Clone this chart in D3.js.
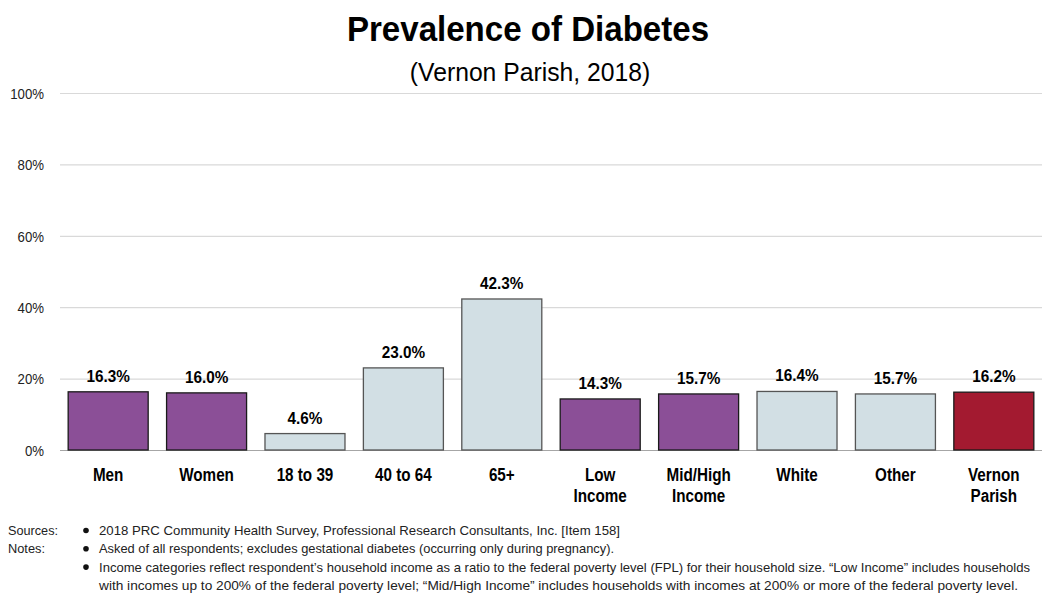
<!DOCTYPE html>
<html>
<head>
<meta charset="utf-8">
<script src="https://cdn.jsdelivr.net/npm/d3@7"></script>
<style>
  body { margin: 0; background: #fff; }
  svg { display: block; }
</style>
</head>
<body>
<svg width="1042" height="594"></svg>
<script>
    const categories = ['Men', 'Women', '18 to 39', '40 to 64', '65+', 'Low\nIncome', 'Mid/High\nIncome', 'White', 'Other', 'Vernon\nParish']
    const values = [16.3, 16.0, 4.6, 23.0, 42.3, 14.3, 15.7, 16.4, 15.7, 16.2]
    const groups = ['purple', 'purple', 'light', 'light', 'light', 'purple', 'purple', 'light', 'light', 'red']
    const yTicks = [0, 20, 40, 60, 80, 100]
    const sources = ['2018 PRC Community Health Survey, Professional Research Consultants, Inc.  [Item 158]']
    const notes = [
      ['Asked of all respondents; excludes gestational diabetes (occurring only during pregnancy).'],
      ['Income categories reflect respondent\u2019s household income as a ratio to the federal poverty level (FPL) for their household size.  \u201cLow Income\u201d includes households',
       'with incomes up to 200% of the federal poverty level; \u201cMid/High Income\u201d includes households with incomes at 200% or more of the federal poverty level.']
    ]
    // right ends of the footnote lines
    const footEnds = [620, 614, 1030, 1018]

    const fill = {purple: '#8b4f97', light: '#d2dfe4', red: '#a31a30'}
    const strokeC = {purple: '#1a1a1a', light: '#555', red: '#1a1a1a'}
    const sans = '"Liberation Sans", Arial, sans-serif'

    // squeeze text a bit, the original uses a narrow face
    function condense(sel, f) {
      sel.each(function() {
        const w = this.getComputedTextLength()
        d3.select(this).attr('textLength', w * f).attr('lengthAdjust', 'spacingAndGlyphs')
      })
    }

    const svg = d3.select('svg')
    const xs = d3.scaleBand().domain(d3.range(categories.length)).range([60, 1042]).paddingInner(0.187).paddingOuter(0.083)
    const ys = d3.scaleLinear().domain([0, 100]).range([450, 93])

    const title = svg.append('text').attr('x', 528).attr('y', 41).attr('text-anchor', 'middle')
      .style('font-family', sans).style('font-weight', 'bold').style('font-size', '35px')
      .text('Prevalence of Diabetes')
    condense(title, 0.945)
    const sub = svg.append('text').attr('x', 530).attr('y', 81).attr('text-anchor', 'middle')
      .style('font-family', sans).style('font-size', '26px')
      .text('(Vernon Parish, 2018)')
    condense(sub, 0.95)

    // grid + y axis
    const yaxis = svg.append('g').attr('transform', 'translate(60,0)')
      .call(d3.axisLeft(ys).tickValues(yTicks).tickSize(-982).tickFormat(function(d) {return d + '%'}))
    yaxis.select('.domain').remove()
    yaxis.selectAll('line').attr('stroke', function(d) {return d === 0 ? '#a6a6a6' : '#d9d9d9'}).attr('stroke-width', 1.2)
    yaxis.selectAll('text').attr('x', -16).attr('dy', '0.35em')
      .style('font-family', sans).style('font-size', '15px').attr('fill', '#222')
    condense(yaxis.selectAll('text'), 0.88)

    svg.append('g').selectAll('rect').data(values).enter().append('rect')
      .attr('x', function(d, i) {return xs(i)})
      .attr('y', function(d) {return ys(d)})
      .attr('width', xs.bandwidth())
      .attr('height', function(d) {return ys(0) - ys(d)})
      .attr('fill', function(d, i) {return fill[groups[i]]})
      .attr('stroke', function(d, i) {return strokeC[groups[i]]})
      .attr('stroke-width', 1.3)

    const vals = svg.append('g').selectAll('text').data(values).enter().append('text')
      .attr('x', function(d, i) {return xs(i) + xs.bandwidth() / 2})
      .attr('y', function(d) {return ys(d) - 10})
      .attr('text-anchor', 'middle')
      .style('font-family', sans).style('font-weight', 'bold').style('font-size', '17px')
      .text(function(d) {return d.toFixed(1) + '%'})
    condense(vals, 0.9)

    const cats = svg.append('g').selectAll('text').data(categories).enter().append('text')
      .attr('x', function(d, i) {return xs(i) + xs.bandwidth() / 2})
      .attr('y', 481)
      .attr('text-anchor', 'middle')
      .style('font-family', sans).style('font-weight', 'bold').style('font-size', '17.5px')
    cats.each(function(d) {
      const t = d3.select(this)
      const x = t.attr('x')
      d.split('\n').forEach(function(line, k) {
        t.append('tspan').attr('x', x).attr('dy', k === 0 ? 0 : 21).text(line)
      })
    })
    condense(cats.selectAll('tspan'), 0.87)

    // footnotes
    const foot = svg.append('g').style('font-family', sans).style('font-size', '13px').attr('fill', '#222')
    foot.append('text').attr('x', 8).attr('y', 535).text('Sources:')
      .attr('textLength', 50).attr('lengthAdjust', 'spacingAndGlyphs')
    foot.append('text').attr('x', 8).attr('y', 553.3).text('Notes:')
      .attr('textLength', 37).attr('lengthAdjust', 'spacingAndGlyphs')
    let yy = 535
    let n = 0
    sources.concat(notes).forEach(function(item) {
      const lines = Array.isArray(item) ? item : [item]
      foot.append('circle').attr('cx', 86).attr('cy', yy - 4.5).attr('r', 2.8).attr('fill', '#111')
      lines.forEach(function(line) {
        foot.append('text').attr('x', 99).attr('y', yy).text(line)
          .attr('textLength', footEnds[n] - 99).attr('lengthAdjust', 'spacingAndGlyphs')
        yy += 18.3
        n += 1
      })
    })
</script>
</body>
</html>
